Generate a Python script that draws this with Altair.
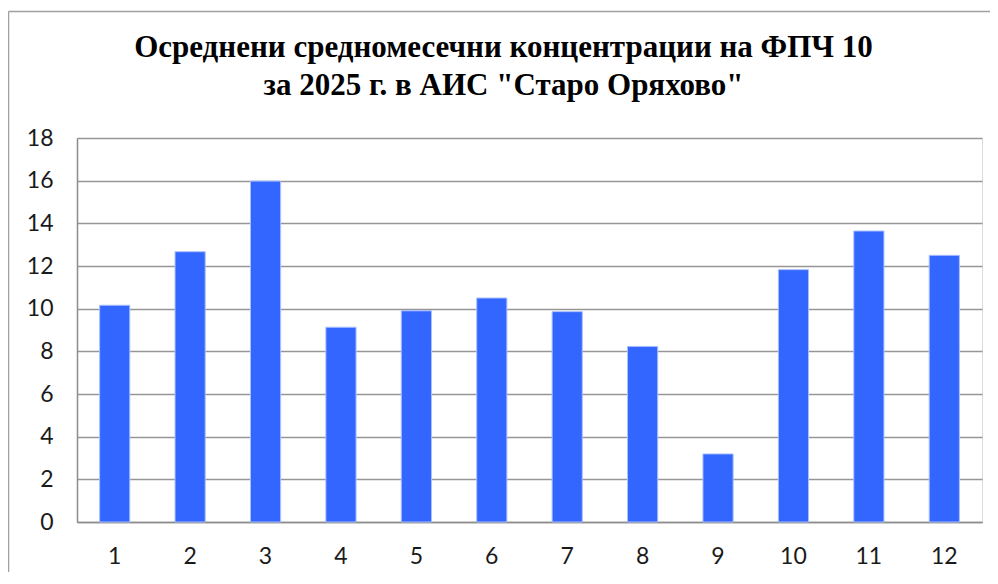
import altair as alt
import pandas as pd

months = ["1", "2", "3", "4", "5", "6", "7", "8", "9", "10", "11", "12"]
values = [10.16, 12.67, 15.98, 9.13, 9.9, 10.5, 9.86, 8.23, 3.19, 11.83, 13.64, 12.5]
y_ticks = [0, 2, 4, 6, 8, 10, 12, 14, 16, 18]
title_lines = ["Осреднени средномесечни концентрации на ФПЧ 10",
               "за 2025 г. в АИС \"Старо Оряхово\""]

df = pd.DataFrame({"month": months, "value": values})

bars = alt.Chart(df).mark_bar(color="#3366FF", stroke="#A9BFFF", strokeWidth=1).encode(
    x=alt.X("month:N", sort=months,
            scale=alt.Scale(paddingInner=0.6, paddingOuter=0.3),
            axis=alt.Axis(title=None, labelAngle=0, ticks=False, domain=True,
                          domainColor="#8C8C8C", domainWidth=1.5,
                          labelFont="Lato", labelFontSize=23, labelColor="#1A1A1A",
                          labelPadding=23, grid=False)),
    y=alt.Y("value:Q", scale=alt.Scale(domain=[0, 18], nice=False),
            axis=alt.Axis(title=None, values=y_ticks, ticks=False, domain=True,
                          domainColor="#8C8C8C", domainWidth=1.5,
                          gridColor="#969696", gridWidth=1.5,
                          labelFont="Lato", labelFontSize=23, labelColor="#1A1A1A",
                          labelPadding=24)),
)

frame_data = alt.Data(values=[{"a": 1}])
left_line = alt.Chart(frame_data).mark_rule(color="#A0A0A0", strokeWidth=1.5).encode(
    x=alt.value(-68.5), y=alt.value(-126.5), y2=alt.value(460))
top_line = alt.Chart(frame_data).mark_rule(color="#A0A0A0", strokeWidth=1.5).encode(
    x=alt.value(-68.5), x2=alt.value(913), y=alt.value(-126.5))

chart = alt.layer(bars, left_line, top_line).properties(
    width=905, height=384,
    padding={"left": 69, "top": 130, "right": 8, "bottom": 50},
    autosize=alt.AutoSizeParams(type="none"),
    title=alt.TitleParams(text=title_lines, font="Liberation Serif", fontSize=31,
                          fontWeight="bold", color="#000000", anchor="middle",
                          dx=-26, offset=-91, lineHeight=38),
).configure_view(stroke=None).configure(background="#FFFFFF")

chart.save("out.html", embed_options={"renderer": "svg", "actions": False})
